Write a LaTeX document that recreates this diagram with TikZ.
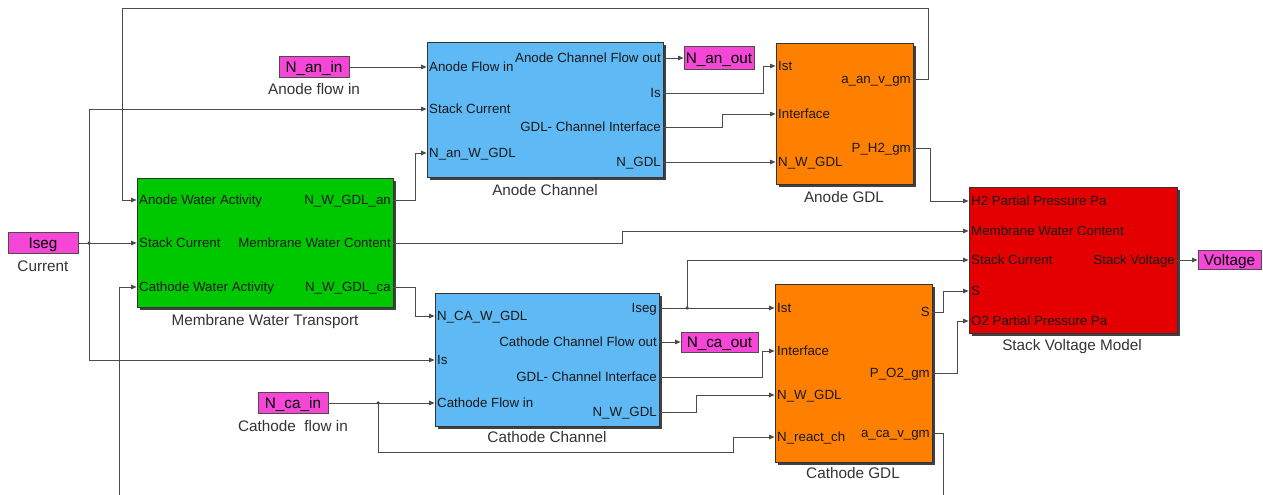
\documentclass[tikz,border=0pt]{standalone}
\usepackage{fontspec}
\setmainfont{Liberation Sans}
\usetikzlibrary{arrows.meta,shadows}
\definecolor{magbox}{RGB}{245,70,215}
\definecolor{chblue}{RGB}{95,185,245}
\definecolor{mwtgreen}{RGB}{0,200,0}
\definecolor{gdlorange}{RGB}{255,128,0}
\definecolor{svmred}{RGB}{228,0,0}
\newcommand\myportfont{\fontsize{13.3pt}{15pt}\selectfont}
\newcommand\mycapfont{\fontsize{15.3pt}{17pt}\selectfont}
\tikzset{
  blk/.style={draw=black!80, line width=0.8pt, inner sep=0pt,
    drop shadow={shadow xshift=3pt, shadow yshift=-3pt, fill=black!75, opacity=1}},
  mag/.style={draw=black!70, fill=magbox, line width=0.8pt, inner sep=0pt,
    font=\mycapfont, text height=11pt, text depth=0pt},
  portl/.style={anchor=west, inner sep=0pt, font=\myportfont, text=black!90, text height=9.6pt, text depth=0pt},
  portr/.style={anchor=east, inner sep=0pt, font=\myportfont, text=black!90, text height=9.6pt, text depth=0pt},
  captxt/.style={inner sep=0pt, font=\mycapfont, text=black!80, text height=11pt, text depth=0pt},
  wire/.style={draw=black!70, line width=0.9pt},
  arr/.style={wire, -{Triangle[length=5.5pt,width=4.5pt]}},
  jdot/.style={circle, fill=black!80, inner sep=0pt, minimum size=3.5pt},
}
\begin{document}
\begin{tikzpicture}[x=1pt,y=-1pt]
\useasboundingbox (0,0) rectangle (1263,495);

% ---------- blocks ----------
\node[blk, fill=mwtgreen, minimum width=256pt, minimum height=129pt] (mwt) at (265,242.5) {};
\node[blk, fill=chblue, minimum width=236pt, minimum height=135pt] (ac) at (545,109.5) {};
\node[blk, fill=gdlorange, minimum width=137pt, minimum height=141pt] (agdl) at (844.5,113.5) {};
\node[blk, fill=chblue, minimum width=224pt, minimum height=133pt] (cc) at (547,359.5) {};
\node[blk, fill=gdlorange, minimum width=157pt, minimum height=178pt] (cgdl) at (853.5,373) {};
\node[blk, fill=svmred, minimum width=208pt, minimum height=146pt] (svm) at (1073,260) {};

% ---------- magenta boxes ----------
\node[mag, minimum width=70pt, minimum height=21pt] (iseg) at (43,243) {Iseg};
\node[mag, minimum width=70pt, minimum height=21pt] (nanin) at (314,67) {N\_an\_in};
\node[mag, minimum width=70pt, minimum height=23pt] (nanout) at (719,58) {N\_an\_out};
\node[mag, minimum width=70pt, minimum height=21pt] (ncain) at (293,403) {N\_ca\_in};
\node[mag, minimum width=77pt, minimum height=20pt] (ncaout) at (719.5,342) {N\_ca\_out};
\node[mag, minimum width=63pt, minimum height=19pt] (volt) at (1229.5,260) {Voltage};

% ---------- captions ----------
\node[captxt] (capcur) at (43,266) {Current};
\node[captxt] (capanin) at (314,89) {Anode flow in};
\node[captxt] (capcain) at (293,426) {Cathode\ \ flow in};
\node[captxt] (capmwt) at (265,320) {Membrane Water Transport};
\node[captxt] (capac) at (545,190) {Anode Channel};
\node[captxt] (capag) at (844,197) {Anode GDL};
\node[captxt] (capcc) at (547,437) {Cathode Channel};
\node[captxt] (capcg) at (853,473) {Cathode GDL};
\node[captxt] (capsv) at (1072,345) {Stack Voltage Model};

% ---------- port labels ----------
\node[portl] (mwt-i1) at (139,200) {Anode Water Activity};
\node[portl] (mwt-i2) at (139,243) {Stack Current};
\node[portl] (mwt-i3) at (139,287) {Cathode Water Activity};
\node[portr] (mwt-o1) at (391,200) {N\_W\_GDL\_an};
\node[portr] (mwt-o2) at (391,243) {Membrane Water Content};
\node[portr] (mwt-o3) at (391,287) {N\_W\_GDL\_ca};

\node[portl] (ac-i1) at (429,67) {Anode Flow in};
\node[portl] (ac-i2) at (429,109) {Stack Current};
\node[portl] (ac-i3) at (429,153) {N\_an\_W\_GDL};
\node[portr] (ac-o1) at (661,58) {Anode Channel Flow out};
\node[portr] (ac-o2) at (661,93) {Is};
\node[portr] (ac-o3) at (661,127) {GDL- Channel Interface};
\node[portr] (ac-o4) at (661,162) {N\_GDL};

\node[portl] (ag-i1) at (778,66) {Ist};
\node[portl] (ag-i2) at (778,114) {Interface};
\node[portl] (ag-i3) at (778,162) {N\_W\_GDL};
\node[portr] (ag-o1) at (911,79) {a\_an\_v\_gm};
\node[portr] (ag-o2) at (911,148) {P\_H2\_gm};

\node[portl] (cc-i1) at (437,316) {N\_CA\_W\_GDL};
\node[portl] (cc-i2) at (437,360) {Is};
\node[portl] (cc-i3) at (437,403) {Cathode Flow in};
\node[portr] (cc-o1) at (657,308) {Iseg};
\node[portr] (cc-o2) at (657,342) {Cathode Channel Flow out};
\node[portr] (cc-o3) at (657,377) {GDL- Channel Interface};
\node[portr] (cc-o4) at (657,412) {N\_W\_GDL};

\node[portl] (cg-i1) at (777,308) {Ist};
\node[portl] (cg-i2) at (777,351) {Interface};
\node[portl] (cg-i3) at (777,395) {N\_W\_GDL};
\node[portl] (cg-i4) at (777,437) {N\_react\_ch};
\node[portr] (cg-o1) at (930,312) {S};
\node[portr] (cg-o2) at (930,373) {P\_O2\_gm};
\node[portr] (cg-o3) at (930,433) {a\_ca\_v\_gm};

\node[portl] (sv-i1) at (971,201) {H2 Partial Pressure Pa};
\node[portl] (sv-i2) at (971,231) {Membrane Water Content};
\node[portl] (sv-i3) at (971,260) {Stack Current};
\node[portl] (sv-i4) at (971,291) {S};
\node[portl] (sv-i5) at (971,321) {O2 Partial Pressure Pa};
\node[portr] (sv-o1) at (1175,260) {Stack Voltage};

% ---------- connectors ----------
\coordinate (bot1) at (119,495);
\coordinate (bot2) at (943,495);
\node[jdot] (j1) at (89,243) {};
\node[jdot] (j2) at (687,308) {};
\node[jdot] (j3) at (378,403) {};

\draw[arr] (agdl.east |- ag-o1) -- (928,79) -- (928,8) -- (122,8) -- (122,200) -- (mwt.west |- mwt-i1);
\draw[arr] (nanin.east) -- (ac.west |- ac-i1);
\draw[arr] (iseg.east) -- (mwt.west |- mwt-i2);
\draw[arr] (j1.center) -- (89,109) -- (ac.west |- ac-i2);
\draw[arr] (j1.center) -- (89,360) -- (cc.west |- cc-i2);
\draw[arr] (mwt.east |- mwt-o1) -- (415,200) -- (415,153) -- (ac.west |- ac-i3);
\draw[arr] (mwt.east |- mwt-o2) -- (622,243) -- (622,231) -- (svm.west |- sv-i2);
\draw[arr] (mwt.east |- mwt-o3) -- (415,287) -- (415,316) -- (cc.west |- cc-i1);
\draw[arr] (bot1) -- (119,287) -- (mwt.west |- mwt-i3);
\draw[arr] (ac.east |- ac-o1) -- (nanout.west);
\draw[arr] (ac.east |- ac-o2) -- (763,93) -- (763,66) -- (agdl.west |- ag-i1);
\draw[arr] (ac.east |- ac-o3) -- (722,127) -- (722,114) -- (agdl.west |- ag-i2);
\draw[arr] (ac.east |- ac-o4) -- (agdl.west |- ag-i3);
\draw[arr] (agdl.east |- ag-o2) -- (930,148) -- (930,201) -- (svm.west |- sv-i1);
\draw[arr] (cc.east |- cc-o1) -- (cgdl.west |- cg-i1);
\draw[arr] (j2.center) -- (687,260) -- (svm.west |- sv-i3);
\draw[arr] (cc.east |- cc-o2) -- (ncaout.west);
\draw[arr] (cc.east |- cc-o3) -- (762,377) -- (762,351) -- (cgdl.west |- cg-i2);
\draw[arr] (cc.east |- cc-o4) -- (696,412) -- (696,395) -- (cgdl.west |- cg-i3);
\draw[arr] (ncain.east) -- (cc.west |- cc-i3);
\draw[arr] (j3.center) -- (378,452) -- (733,452) -- (733,437) -- (cgdl.west |- cg-i4);
\draw[arr] (cgdl.east |- cg-o1) -- (943,312) -- (943,291) -- (svm.west |- sv-i4);
\draw[arr] (cgdl.east |- cg-o2) -- (957,373) -- (957,321) -- (svm.west |- sv-i5);
\draw[wire] (cgdl.east |- cg-o3) -- (943,433) -- (bot2);
\draw[arr] (svm.east |- sv-o1) -- (volt.west);
\end{tikzpicture}
\end{document}
